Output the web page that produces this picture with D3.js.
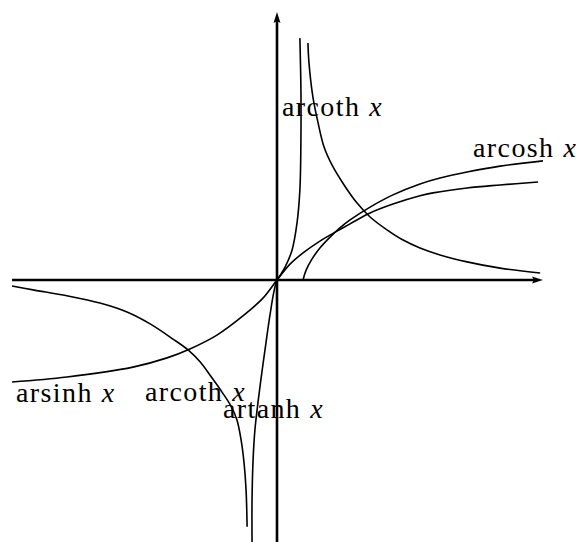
<!DOCTYPE html>
<html>
<head>
<meta charset="utf-8">
<script src="https://cdn.jsdelivr.net/npm/d3@7"></script>
<style>
  html, body { margin: 0; padding: 0; background: #fff; }
  svg { display: block; }
  .lbl { font-family: "Liberation Serif", "Times New Roman", serif; font-size: 28px; fill: #000; }
  .lbl .nm { letter-spacing: 1.4px; }
  .lbl .var { font-style: italic; }
</style>
</head>
<body>
<svg id="chart" width="579" height="542"></svg>
<script>
// Inverse hyperbolic functions, sampled as [x, y] pairs in plot units.
const arsinhPts = [
  [-10.19, -3.09], [-8.08, -2.94], [-5.54, -2.64], [-4.23, -2.36], [-3.35, -2.09],
  [-2.31, -1.67], [-1.31, -1.09], [-0.54, -0.55], [0, 0], [0.5, 0.48], [1.0, 0.82],
  [1.65, 1.18], [2.31, 1.48], [2.81, 1.70], [3.58, 2.03], [4.46, 2.30], [5.5, 2.55],
  [6.0, 2.64], [7.31, 2.79], [8.58, 2.88], [10.04, 2.97]
];
const arcoshPts = [
  [1.0, 0], [1.12, 0.30], [1.35, 0.64], [1.65, 0.97], [2.04, 1.30], [2.42, 1.58],
  [2.81, 1.82], [3.58, 2.21], [4.46, 2.58], [5.5, 2.91], [6.27, 3.09], [7.31, 3.27],
  [8.58, 3.45], [10.23, 3.61]
];
const artanhPts = [
  [0.88, 7.33], [0.92, 5.76], [0.92, 4.24], [0.88, 2.73], [0.77, 1.73], [0.58, 0.91],
  [0.31, 0.39], [0.15, 0.18], [0, 0], [-0.12, -0.36], [-0.27, -1.06], [-0.42, -1.88],
  [-0.58, -2.79], [-0.73, -3.70], [-0.85, -4.55], [-0.92, -5.45], [-0.96, -6.67],
  [-0.96, -7.94]
];
const arcothRightPts = [
  [1.19, 7.18], [1.23, 6.58], [1.38, 5.55], [1.58, 4.76], [1.81, 4.03], [2.12, 3.48],
  [2.58, 2.88], [3.08, 2.33], [3.58, 1.91], [4.23, 1.52], [4.85, 1.21], [5.5, 0.97],
  [6.27, 0.76], [7.31, 0.55], [8.58, 0.36], [10.12, 0.21]
];
const arcothLeftPts = [
  [-10.19, -0.18], [-9.38, -0.30], [-8.08, -0.48], [-6.81, -0.70], [-5.77, -0.97],
  [-4.88, -1.33], [-4.0, -1.79], [-3.42, -2.12], [-2.96, -2.48], [-2.58, -2.88],
  [-2.12, -3.39], [-1.77, -3.82], [-1.54, -4.24], [-1.38, -4.85], [-1.27, -5.52],
  [-1.19, -6.36], [-1.15, -7.48]
];

// Axis extents (plot units)
const xAxisExtent = [-10.19, 10.23];
const yAxisExtent = [-7.94, 8.12];

// Curve labels
const labelNames = ["arcoth", "arcosh", "arsinh", "arcoth", "artanh"];
const labelVar = "x";

const svg = d3.select("#chart");
const x = d3.scaleLinear().domain([-10, 10]).range([17, 537]);
const y = d3.scaleLinear().domain([-8, 8]).range([544, 16]);

// Axes with arrowheads
const axisG = svg.append("g");
axisG.append("line")
  .attr("x1", x(xAxisExtent[0])).attr("y1", y(0))
  .attr("x2", x(xAxisExtent[1]) - 6).attr("y2", y(0))
  .attr("stroke", "#000").attr("stroke-width", 2.6);
axisG.append("line")
  .attr("x1", x(0)).attr("y1", y(yAxisExtent[0]))
  .attr("x2", x(0)).attr("y2", y(yAxisExtent[1]) + 6)
  .attr("stroke", "#000").attr("stroke-width", 2.6);

const xt = [x(xAxisExtent[1]), y(0)];
axisG.append("path")
  .attr("d", `M${xt[0]},${xt[1]} L${xt[0] - 11},${xt[1] - 3.5} L${xt[0] - 9},${xt[1]} L${xt[0] - 11},${xt[1] + 3.5} Z`)
  .attr("fill", "#000");
const yt = [x(0), y(yAxisExtent[1])];
axisG.append("path")
  .attr("d", `M${yt[0]},${yt[1]} L${yt[0] - 3.5},${yt[1] + 11} L${yt[0]},${yt[1] + 9} L${yt[0] + 3.5},${yt[1] + 11} Z`)
  .attr("fill", "#000");

// Function curves
const line = d3.line()
  .x(d => x(d[0]))
  .y(d => y(d[1]))
  .curve(d3.curveCatmullRom.alpha(0.5));

const curves = [arsinhPts, arcoshPts, artanhPts, arcothRightPts, arcothLeftPts];
svg.append("g").selectAll("path")
  .data(curves)
  .join("path")
  .attr("d", line)
  .attr("fill", "none")
  .attr("stroke", "#000")
  .attr("stroke-width", 1.6)
  .attr("stroke-linejoin", "round");

// Labels: anchor (start, baseline) in plot units
const labelAnchors = [
  [0.19, 4.97], [7.54, 3.73], [-10.04, -3.7], [-5.08, -3.67], [-2.08, -4.18]
];
const lbl = svg.append("g").selectAll("text")
  .data(labelNames.map((n, i) => ({ name: n, at: labelAnchors[i] })))
  .join("text")
  .attr("class", "lbl")
  .attr("x", d => x(d.at[0]))
  .attr("y", d => y(d.at[1]));
lbl.append("tspan").attr("class", "nm").text(d => d.name);
lbl.append("tspan").attr("class", "var").attr("dx", 9).text(labelVar);
</script>
</body>
</html>
